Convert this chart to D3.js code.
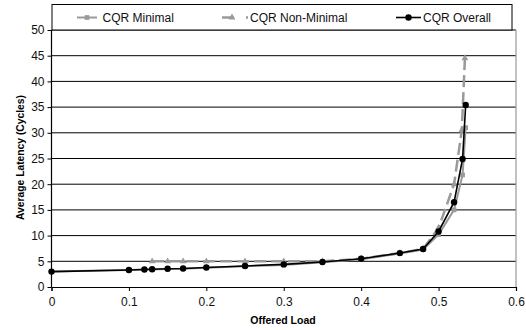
<!DOCTYPE html>
<html>
<head>
<meta charset="utf-8">
<script src="https://cdn.jsdelivr.net/npm/d3@7"></script>
<style>
  html, body { margin: 0; padding: 0; background: #fff; }
  svg { display: block; font-family: "Liberation Sans", Arial, sans-serif; }
</style>
</head>
<body>
<svg id="chart" width="526" height="330"></svg>
<script>
// Offered load (x) and average latency (y) for each routing series
const overallLoad = [0, 0.1, 0.12, 0.13, 0.15, 0.17, 0.2, 0.25, 0.3, 0.35, 0.4, 0.45, 0.48, 0.5, 0.52, 0.531, 0.535];
const overallLatency = [3.0, 3.3, 3.4, 3.45, 3.55, 3.6, 3.8, 4.1, 4.4, 4.85, 5.5, 6.6, 7.4, 10.8, 16.5, 24.9, 35.4];

const minimalLoad = [0, 0.1, 0.12, 0.13, 0.15, 0.17, 0.2, 0.25, 0.3, 0.35, 0.4, 0.45, 0.48, 0.5, 0.52, 0.531, 0.535];
const minimalLatency = [3.0, 3.3, 3.4, 3.4, 3.5, 3.55, 3.75, 4.05, 4.3, 4.8, 5.4, 6.5, 7.3, 10.2, 15.0, 21.8, 31.0];

const nonMinimalLoad = [0.13, 0.15, 0.17, 0.2, 0.25, 0.3, 0.35, 0.4, 0.45, 0.48, 0.5, 0.52, 0.53, 0.534];
const nonMinimalLatency = [5.0, 5.0, 5.0, 5.0, 5.0, 5.0, 5.0, 5.5, 6.6, 7.4, 11.5, 20.0, 30.5, 44.5];

const xTicks = [0, 0.1, 0.2, 0.3, 0.4, 0.5, 0.6];
const yTicks = [0, 5, 10, 15, 20, 25, 30, 35, 40, 45, 50];

const seriesNames = ["CQR Minimal", "CQR Non-Minimal", "CQR Overall"];

const svg = d3.select("#chart");
const plot = { left: 51.5, right: 516, top: 30, bottom: 287 };

const x = d3.scaleLinear().domain([0, 0.6]).range([plot.left, plot.right]);
const y = d3.scaleLinear().domain([0, 50]).range([plot.bottom, plot.top]);

// horizontal gridlines
svg.append("g")
  .selectAll("line")
  .data(yTicks.filter(d => d > 0))
  .join("line")
  .attr("x1", plot.left).attr("x2", plot.right)
  .attr("y1", d => y(d)).attr("y2", d => y(d))
  .attr("stroke", "#000").attr("stroke-width", 1);

// right border of plot area
svg.append("line")
  .attr("x1", plot.right).attr("x2", plot.right)
  .attr("y1", plot.top).attr("y2", plot.bottom)
  .attr("stroke", "#999").attr("stroke-width", 1.2);

// axes
const xAxis = svg.append("g")
  .attr("transform", `translate(0,${plot.bottom})`)
  .call(d3.axisBottom(x).tickValues(xTicks).tickSize(4).tickPadding(6)
    .tickFormat(d => d === 0 ? "0" : d3.format(".1f")(d)));
const yAxis = svg.append("g")
  .attr("transform", `translate(${plot.left},0)`)
  .call(d3.axisLeft(y).tickValues(yTicks).tickSize(4).tickPadding(3));
[xAxis, yAxis].forEach(g => {
  g.select(".domain").attr("stroke", "#000").attr("stroke-width", 1.2);
  g.selectAll(".tick line").attr("stroke", "#000");
  g.selectAll("text").attr("font-size", 12).attr("fill", "#111")
    .attr("font-family", "Liberation Sans, Arial, sans-serif");
});
yAxis.select(".domain").attr("d", `M-0,${plot.bottom}V${plot.top}`);

// axis titles
svg.append("text")
  .attr("x", 283).attr("y", 324)
  .attr("text-anchor", "middle")
  .attr("font-size", 10.5).attr("font-weight", "bold").attr("fill", "#000")
  .text("Offered Load");
svg.append("text")
  .attr("transform", "translate(24,157.5) rotate(-90)")
  .attr("text-anchor", "middle")
  .attr("font-size", 10.3).attr("font-weight", "bold").attr("fill", "#000")
  .text("Average Latency (Cycles)");

const line = d3.line().x(d => x(d[0])).y(d => y(d[1]));
const zip = (a, b) => a.map((v, i) => [v, b[i]]);

const minimal = zip(minimalLoad, minimalLatency);
const nonMinimal = zip(nonMinimalLoad, nonMinimalLatency);
const overall = zip(overallLoad, overallLatency);

const grey = "#9a9a9a";
const square = d3.symbol().type(d3.symbolSquare).size(22);
const triangle = d3.symbol().type(d3.symbolTriangle).size(20);

// CQR Minimal
svg.append("path").datum(minimal).attr("d", line)
  .attr("fill", "none").attr("stroke", grey).attr("stroke-width", 2);
svg.append("g").selectAll("path").data(minimal).join("path")
  .attr("d", square).attr("transform", d => `translate(${x(d[0])},${y(d[1])})`)
  .attr("fill", grey);

// CQR Non-Minimal
svg.append("path").datum(nonMinimal).attr("d", line)
  .attr("fill", "none").attr("stroke", grey).attr("stroke-width", 2.5)
  .attr("stroke-dasharray", "12,5");
svg.append("g").selectAll("path").data(nonMinimal).join("path")
  .attr("d", triangle).attr("transform", d => `translate(${x(d[0])},${y(d[1])})`)
  .attr("fill", grey);

// CQR Overall
svg.append("path").datum(overall).attr("d", line)
  .attr("fill", "none").attr("stroke", "#000").attr("stroke-width", 1.6);
svg.append("g").selectAll("circle").data(overall).join("circle")
  .attr("cx", d => x(d[0])).attr("cy", d => y(d[1])).attr("r", 3.2)
  .attr("fill", "#000");

// legend
const legend = svg.append("g");
legend.append("rect")
  .attr("x", 52).attr("y", 4.5).attr("width", 460).attr("height", 25.5)
  .attr("fill", "#fff").attr("stroke", "#000").attr("stroke-width", 1);

const legendItems = [
  { name: seriesNames[0], x0: 77, x1: 97, tx: 102.5 },
  { name: seriesNames[1], x0: 222, x1: 248, tx: 250 },
  { name: seriesNames[2], x0: 396, x1: 421, tx: 423 }
];
const ly = 17.5;
// Minimal sample
legend.append("line").attr("x1", legendItems[0].x0).attr("x2", legendItems[0].x1)
  .attr("y1", ly).attr("y2", ly).attr("stroke", grey).attr("stroke-width", 2);
legend.append("path").attr("d", square).attr("transform", `translate(87,${ly})`).attr("fill", grey);
// Non-Minimal sample
legend.append("line").attr("x1", legendItems[1].x0).attr("x2", legendItems[1].x1)
  .attr("y1", ly).attr("y2", ly).attr("stroke", grey).attr("stroke-width", 2.5)
  .attr("stroke-dasharray", "12,12");
legend.append("path").attr("d", triangle).attr("transform", `translate(232,${ly})`).attr("fill", grey);
// Overall sample
legend.append("line").attr("x1", legendItems[2].x0).attr("x2", legendItems[2].x1)
  .attr("y1", ly).attr("y2", ly).attr("stroke", "#000").attr("stroke-width", 1.6);
legend.append("circle").attr("cx", 408.5).attr("cy", ly).attr("r", 3.2).attr("fill", "#000");

legend.selectAll("text").data(legendItems).join("text")
  .attr("x", d => d.tx).attr("y", ly + 4.3)
  .attr("font-size", 12).attr("fill", "#111")
  .text(d => d.name);
</script>
</body>
</html>
